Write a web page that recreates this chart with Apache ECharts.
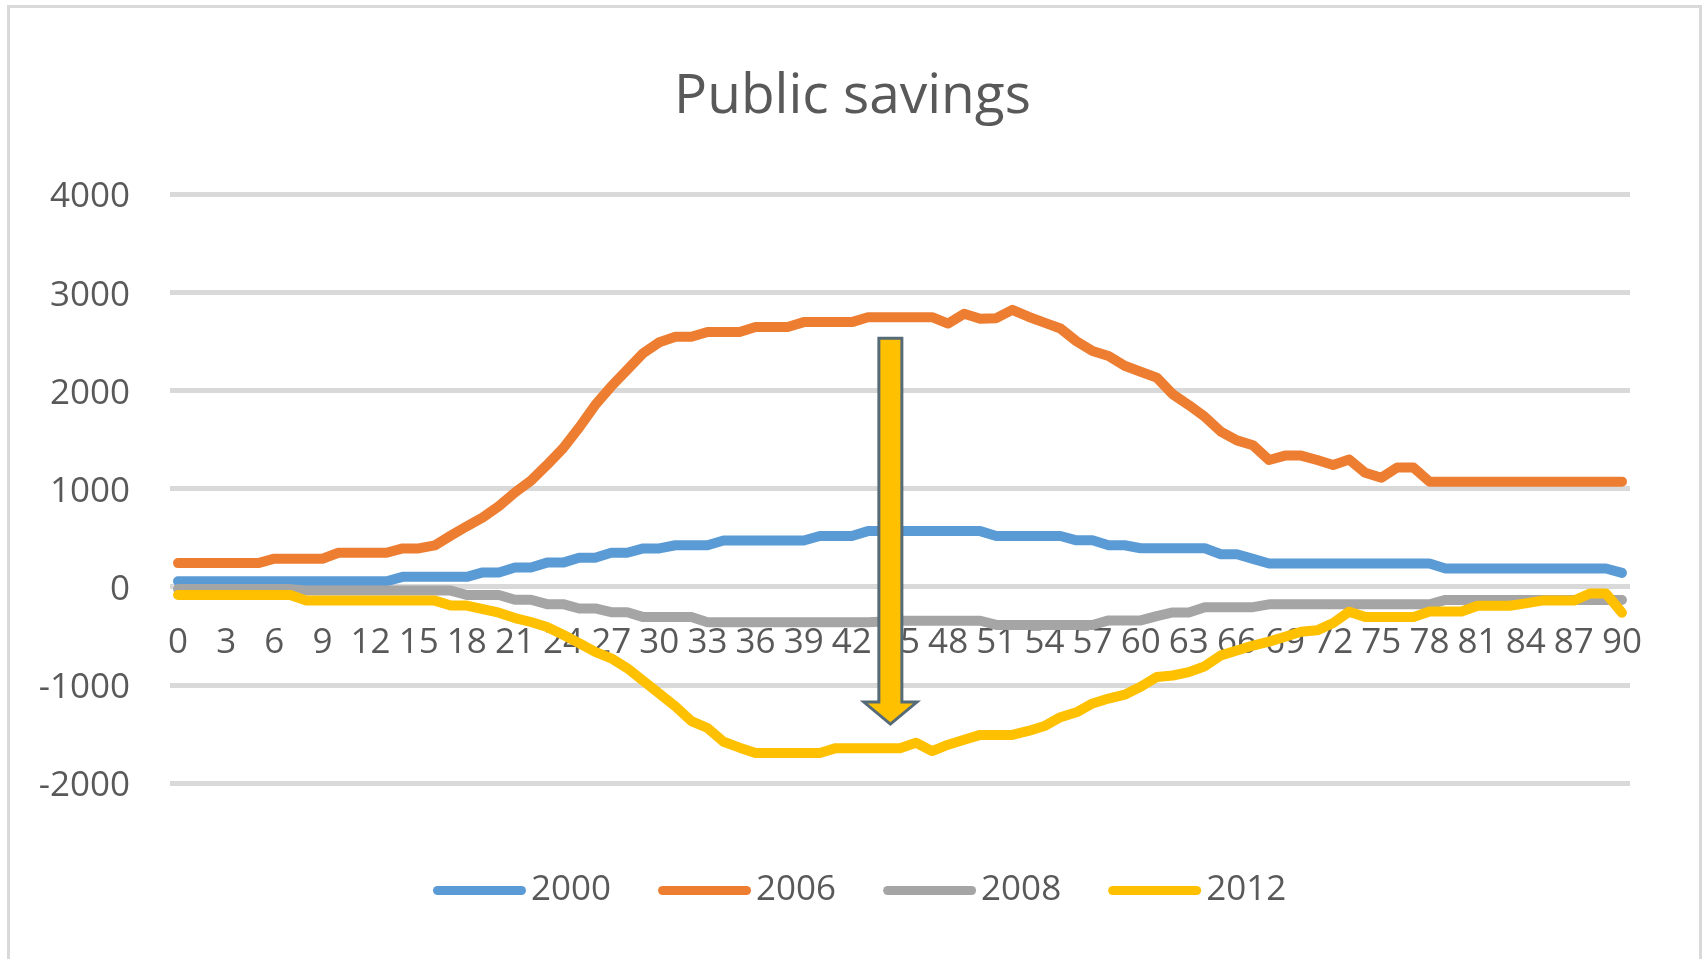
<!DOCTYPE html>
<html>
<head>
<meta charset="utf-8">
<script src="https://cdn.jsdelivr.net/npm/echarts@6/dist/echarts.min.js"></script>
<style>
html,body{margin:0;padding:0;background:#fff;}
#chart{width:1705px;height:959px;}
</style>
</head>
<body>
<div id="chart"></div>
<script>
const categories = ['0','1','2','3','4','5','6','7','8','9','10','11','12','13','14','15','16','17','18','19','20','21','22','23','24','25','26','27','28','29','30','31','32','33','34','35','36','37','38','39','40','41','42','43','44','45','46','47','48','49','50','51','52','53','54','55','56','57','58','59','60','61','62','63','64','65','66','67','68','69','70','71','72','73','74','75','76','77','78','79','80','81','82','83','84','85','86','87','88','89','90'];

const seriesNames = ['2000', '2006', '2008', '2012'];

const s2000 = [55,55,55,55,55,55,55,55,55,55,55,55,55,55,
  100,100,100,100,100, 145,145, 195,195, 245,245, 295,295, 345,345, 390,390,
  422,422,422, 470,470,470,470,470,470, 516,516,516,
  566,566,566,566,566,566,566,566, 516,516,516,516,516, 472,472, 422,422,
  391,391,391,391,391, 330,330, 283,
  236,236,236,236,236,236,236,236,236,236,236,
  185,185,185,185,185,185,185,185,185,185,185, 140];

const s2006 = [240,240,240,240,240,240, 285,285,285,285, 345,345,345,345, 390,390,
  420,520,615,705,820,960,1080,1240,1410,1620,1850,2040,2210,2380,2490,
  2545,2545,2595,2595,2595,2645,2645,2645,2695,2695,2695,2695,
  2745,2745,2745,2745,2745, 2680,2780,2730,2735,2820,2750,2690,2630,2500,2400,2350,2250,2190,2130,
  1960,1850,1730,1580,1490,1440,1290,1335,1335,1290,1240,1295,1160,1110,1215,1215,
  1070,1070,1070,1070,1070,1070,1070,1070,1070,1070,1070,1070,1070];

const s2008 = [-25,-25,-25,-25,-25,-25,-25,-25,
  -40,-40,-40,-40,-40,-40,-40,-40,-40,-40,
  -85,-85,-85, -133,-133, -178,-178, -222,-222, -260,-260, -310,-310,-310,-310,
  -362,-362,-362,-362,-362,-362,-362,-362,-362,-362,-362, -355,
  -347,-347,-347,-347,-347,-347, -390,-390,-390,-390,-390,-390,-390,
  -344,-344,-344, -300, -262,-262, -209,-209,-209,-209,
  -180,-180,-180,-180,-180,-180,-180,-180,-180,-180,-180,
  -135,-135,-135,-135,-135,-135,-135,-135,-135,-135,-135,-135];

const s2012 = [-85,-85,-85,-85,-85,-85,-85,-85,
  -142,-142,-142,-142,-142,-142,-142,-142,-142,
  -192,-192,-230,-265,-320,-360,-410,-490,-575,-665,-730,-830,-960,-1090,-1220,-1370,-1440,-1580,-1640,
  -1695,-1695,-1695,-1695,-1695, -1645,-1645,-1645,-1645,-1645,
  -1590,-1675,-1610,-1560,-1510,-1510,-1510,-1470,-1420,-1330,-1280,-1190,-1140,-1100,-1020,
  -920,-905,-870,-810,-700,-650,-600,-560,-510,-460,-445,-370,-255,
  -310,-310,-310,-310, -253,-253,-253, -195,-195,-195, -170, -142,-142,-142, -70,-70, -265];

const yTicks = { min: -2000, max: 4000, interval: 1000 };
const arrowAt = { category: 44.4, from: 2530, to: -1400 };

const colors = ['#5B9BD5', '#ED7D31', '#A5A5A5', '#FFC000'];
const textColor = '#595959';
const fontFamily = '"Open Sans", "Noto Sans", sans-serif';
const gridBox = { left: 170, right: 75, top: 194, bottom: 176 };

const chart = echarts.init(document.getElementById('chart'), null, { renderer: 'canvas' });

const seriesData = [s2000, s2006, s2008, s2012];
const capsule = 'path://M4.5,0 L88.5,0 A4.5,4.5 0 0 1 88.5,9 L4.5,9 A4.5,4.5 0 0 1 4.5,0 Z';

const option = {
  backgroundColor: '#ffffff',
  animation: false,
  color: colors,
  title: {
    text: 'Public savings',
    left: 'center',
    top: 65,
    textStyle: { color: textColor, fontSize: 55, fontWeight: 'normal', fontFamily: fontFamily }
  },
  legend: {
    data: seriesNames.map(n => ({ name: n, icon: capsule })),
    left: 428,
    top: 868,
    itemWidth: 93,
    itemHeight: 9,
    itemGap: 47,
    textStyle: { color: textColor, fontSize: 35, fontFamily: fontFamily }
  },
  grid: gridBox,
  xAxis: {
    type: 'category',
    data: categories,
    boundaryGap: true,
    offset: 0,
    axisLine: { show: false, onZero: false },
    axisTick: { show: false },
    axisLabel: { interval: 2, color: textColor, fontSize: 35, fontFamily: fontFamily, margin: 39 },
    splitLine: { show: false }
  },
  yAxis: {
    type: 'value',
    min: yTicks.min,
    max: yTicks.max,
    interval: yTicks.interval,
    axisLine: { show: false },
    axisTick: { show: false },
    axisLabel: {
      color: textColor, fontSize: 35, fontFamily: fontFamily, margin: 40,
      formatter: v => '{t|' + String(v) + '}',
      rich: { t: { color: textColor, fontSize: 35, fontFamily: fontFamily, padding: [7, 0, 0, 0] } }
    },
    splitLine: { show: true, lineStyle: { color: '#D9D9D9', width: 5 } }
  },
  series: seriesNames.map((name, k) => ({
    name: name,
    type: 'line',
    data: seriesData[k],
    symbol: 'none',
    showSymbol: false,
    smooth: false,
    lineStyle: { width: 10, color: colors[k], cap: 'round', join: 'round' },
    itemStyle: { color: colors[k] }
  }))
};

chart.setOption(option);

// Place the category axis on the zero line of the value axis
const zeroY = chart.convertToPixel({ yAxisIndex: 0 }, 0);
const bottomY = 959 - gridBox.bottom;
chart.setOption({ xAxis: { offset: zeroY - bottomY } });

// Annotation arrow placed through the chart's own coordinate system
const i0 = Math.floor(arrowAt.category);
const frac = arrowAt.category - i0;
const pA = chart.convertToPixel({ gridIndex: 0 }, [i0, arrowAt.from]);
const pB = chart.convertToPixel({ gridIndex: 0 }, [i0 + 1, arrowAt.from]);
const pTip = chart.convertToPixel({ gridIndex: 0 }, [i0, arrowAt.to]);
const cx = pA[0] + (pB[0] - pA[0]) * frac;
const topY = pA[1];
const tipY = pTip[1];
const shaftHalf = 11.5, headHalf = 26.5, headLen = 22;
const baseY = tipY - headLen;

chart.setOption({
  graphic: [
    {
      type: 'rect',
      left: 6, top: 4,
      shape: { width: 1692, height: 970 },
      style: { fill: 'none', stroke: '#D9D9D9', lineWidth: 3 },
      silent: true, z: -10
    },
    {
      type: 'polygon',
      shape: {
        points: [
          [cx - shaftHalf, topY], [cx + shaftHalf, topY], [cx + shaftHalf, baseY],
          [cx + headHalf, baseY], [cx, tipY], [cx - headHalf, baseY], [cx - shaftHalf, baseY]
        ]
      },
      style: { fill: '#FFC000', stroke: '#566B78', lineWidth: 3, lineJoin: 'miter' },
      z: 100
    }
  ]
});
</script>
</body>
</html>
